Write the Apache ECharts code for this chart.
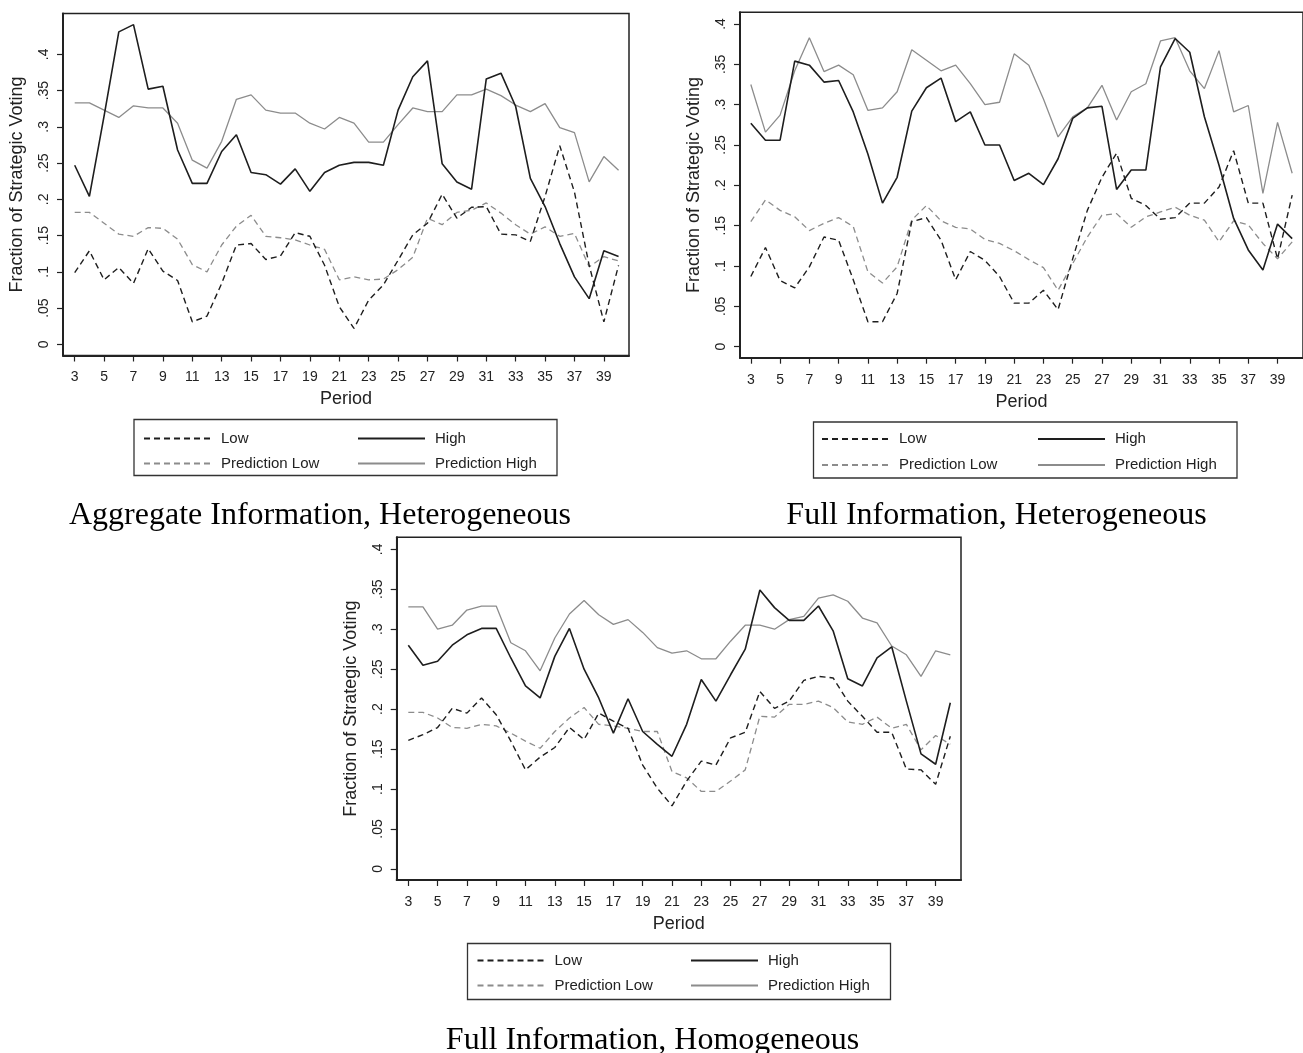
<!DOCTYPE html>
<html>
<head>
<meta charset="utf-8">
<title>Fraction of Strategic Voting by Period</title>
<script src="https://cdn.jsdelivr.net/npm/echarts@6/dist/echarts.min.js"></script>
<style>
  html, body { margin: 0; padding: 0; background: #ffffff; }
  #chart { width: 1303px; height: 1053px; }
</style>
</head>
<body>
<div id="chart"></div>
<script>
// Periods shown on the horizontal axis
const periods = [3,4,5,6,7,8,9,10,11,12,13,14,15,16,17,18,19,20,21,22,23,24,25,26,27,28,29,30,31,32,33,34,35,36,37,38,39,40];

// Tick positions and labels
const xTickValues = [3,5,7,9,11,13,15,17,19,21,23,25,27,29,31,33,35,37,39];
const yTickValues = [0,0.05,0.1,0.15,0.2,0.25,0.3,0.35,0.4];
const yTickLabels = ['0','.05','.1','.15','.2','.25','.3','.35','.4'];

// Aggregate Information, Heterogeneous
const aggLow      = [0.099,0.129,0.089,0.106,0.084,0.132,0.101,0.088,0.031,0.039,0.084,0.137,0.139,0.117,0.122,0.154,0.149,0.109,0.052,
                     0.022,0.061,0.082,0.116,0.151,0.167,0.207,0.174,0.189,0.190,0.152,0.151,0.142,0.204,0.274,0.210,0.109,0.031,0.109];
const aggHigh     = [0.247,0.204,0.315,0.431,0.441,0.352,0.356,0.268,0.222,0.222,0.266,0.289,0.237,0.234,0.221,0.242,0.211,0.237,0.247,
                     0.251,0.251,0.247,0.323,0.369,0.391,0.249,0.224,0.214,0.366,0.374,0.328,0.229,0.190,0.139,0.093,0.063,0.129,0.121];
const aggPredLow  = [0.182,0.182,0.167,0.152,0.149,0.161,0.160,0.145,0.110,0.100,0.137,0.163,0.178,0.149,0.147,0.144,0.137,0.131,0.089,
                     0.093,0.089,0.090,0.103,0.120,0.174,0.165,0.182,0.185,0.195,0.181,0.165,0.152,0.162,0.149,0.153,0.107,0.121,0.115];
const aggPredHigh = [0.333,0.333,0.323,0.313,0.329,0.326,0.326,0.305,0.254,0.243,0.280,0.338,0.344,0.323,0.319,0.319,0.305,0.297,0.313,
                     0.305,0.279,0.279,0.303,0.326,0.321,0.321,0.344,0.344,0.352,0.343,0.330,0.321,0.332,0.299,0.292,0.224,0.259,0.240];

// Full Information, Heterogeneous
const hetLow      = [0.087,0.123,0.082,0.073,0.099,0.136,0.132,0.083,0.031,0.031,0.066,0.155,0.160,0.132,0.083,0.118,0.107,0.087,0.054,
                     0.054,0.070,0.046,0.109,0.169,0.210,0.240,0.184,0.175,0.158,0.160,0.178,0.178,0.198,0.243,0.178,0.178,0.109,0.188];
const hetHigh     = [0.277,0.256,0.256,0.354,0.349,0.328,0.330,0.291,0.239,0.178,0.210,0.292,0.321,0.333,0.279,0.291,0.250,0.250,0.206,
                     0.215,0.201,0.233,0.283,0.296,0.298,0.195,0.219,0.219,0.347,0.382,0.365,0.285,0.225,0.159,0.120,0.095,0.152,0.134];
const hetPredLow  = [0.155,0.182,0.169,0.161,0.144,0.153,0.160,0.149,0.093,0.079,0.099,0.157,0.175,0.156,0.148,0.146,0.133,0.128,0.119,
                     0.108,0.098,0.070,0.103,0.136,0.163,0.165,0.148,0.161,0.167,0.173,0.163,0.157,0.130,0.156,0.151,0.128,0.109,0.130];
const hetPredHigh = [0.325,0.266,0.287,0.342,0.383,0.341,0.349,0.337,0.293,0.296,0.316,0.368,0.355,0.342,0.349,0.326,0.300,0.303,0.363,
                     0.349,0.307,0.260,0.285,0.296,0.324,0.281,0.316,0.326,0.379,0.383,0.342,0.320,0.367,0.291,0.299,0.190,0.278,0.215];

// Full Information, Homogeneous
const homLow      = [0.161,0.168,0.177,0.201,0.195,0.214,0.193,0.160,0.124,0.140,0.152,0.177,0.162,0.195,0.185,0.176,0.130,0.101,0.079,
                     0.110,0.135,0.130,0.164,0.171,0.222,0.201,0.210,0.236,0.241,0.239,0.210,0.191,0.171,0.171,0.125,0.124,0.106,0.166];
const homHigh     = [0.280,0.255,0.260,0.280,0.293,0.301,0.301,0.264,0.229,0.214,0.266,0.301,0.250,0.214,0.170,0.213,0.172,0.156,0.141,
                     0.181,0.237,0.210,0.243,0.275,0.349,0.327,0.311,0.311,0.329,0.298,0.238,0.229,0.264,0.278,0.210,0.144,0.131,0.208];
const homPredLow  = [0.196,0.196,0.189,0.177,0.176,0.181,0.179,0.170,0.160,0.151,0.172,0.189,0.202,0.181,0.179,0.176,0.172,0.172,0.122,
                     0.114,0.097,0.097,0.110,0.124,0.191,0.190,0.206,0.206,0.210,0.202,0.184,0.181,0.190,0.176,0.181,0.149,0.167,0.156];
const homPredHigh = [0.328,0.328,0.300,0.305,0.324,0.329,0.329,0.283,0.273,0.248,0.289,0.319,0.336,0.318,0.306,0.312,0.296,0.277,0.270,
                     0.273,0.263,0.263,0.285,0.305,0.305,0.300,0.312,0.316,0.339,0.343,0.335,0.314,0.308,0.279,0.268,0.241,0.273,0.268];

const panelTitles = ['Aggregate Information, Heterogeneous', 'Full Information, Heterogeneous', 'Full Information, Homogeneous'];
const seriesNames = ['Low', 'High', 'Prediction Low', 'Prediction High'];

const SANS = '"Liberation Sans", Arial, sans-serif';
const SERIF = '"Liberation Serif", "Times New Roman", serif';
const INK = '#1e1e1e';
const GREY = '#8c8c8c';
const DASH = [6, 4];

// Line appearance for each of the four series
const styles = {
  'Low':             { color: INK,  width: 1.4, type: DASH },
  'High':            { color: INK,  width: 1.6, type: 'solid' },
  'Prediction Low':  { color: GREY, width: 1.3, type: DASH },
  'Prediction High': { color: GREY, width: 1.3, type: 'solid' }
};

// Plot frames: position in px and axis ranges
const panels = [
  { left: 63,    top: 13.5,  width: 566,   height: 342,   xMin: 2.204, xMax: 40.71, yMin: -0.0154, yMax: 0.4563,
    values: [aggLow, aggHigh, aggPredLow, aggPredHigh],
    legend: { box: [134, 419.5, 423, 56], col1: 143, col2: 357, top: 431, gap: 10 },
    title: { x: 320, y: 516 } },
  { left: 740,   top: 12.3,  width: 571.4, height: 345.4, xMin: 2.26,  xMax: 40.74, yMin: -0.0136, yMax: 0.4145,
    values: [hetLow, hetHigh, hetPredLow, hetPredHigh],
    legend: { box: [813.5, 422, 423.5, 56], col1: 821, col2: 1037, top: 431.5, gap: 11 },
    title: { x: 996.5, y: 516 } },
  { left: 396.7, top: 537.3, width: 564.3, height: 342.7, xMin: 2.208, xMax: 40.73, yMin: -0.0138, yMax: 0.415,
    values: [homLow, homHigh, homPredLow, homPredHigh],
    legend: { box: [467.5, 943.5, 423, 56], col1: 476.5, col2: 690, top: 953, gap: 10 },
    title: { x: 652.5, y: 1041 } }
];

const grid = [], xAxis = [], yAxis = [], series = [], legend = [], title = [], graphic = [];

panels.forEach((p, i) => {
  grid.push({ left: p.left, top: p.top, width: p.width, height: p.height,
              show: true, borderColor: '#222', borderWidth: 1.5, containLabel: false });

  xAxis.push({
    gridIndex: i, type: 'value', min: p.xMin, max: p.xMax,
    name: 'Period', nameLocation: 'middle', nameGap: 35,
    nameTextStyle: { fontFamily: SANS, fontSize: 18, color: '#222' },
    axisLine: { show: true, onZero: false, lineStyle: { color: '#222', width: 2 } },
    axisTick: { show: true, inside: false, length: 6, customValues: xTickValues, lineStyle: { color: '#222', width: 1.2 } },
    axisLabel: { customValues: xTickValues, margin: 15, fontFamily: SANS, fontSize: 14, color: '#222' },
    splitLine: { show: false }
  });

  yAxis.push({
    gridIndex: i, type: 'value', min: p.yMin, max: p.yMax,
    name: 'Fraction of Strategic Voting', nameLocation: 'middle', nameGap: 37,
    nameTextStyle: { fontFamily: SANS, fontSize: 18, color: '#222' },
    axisLine: { show: true, onZero: false, lineStyle: { color: '#222', width: 2 } },
    axisTick: { show: true, inside: false, length: 6, customValues: yTickValues, lineStyle: { color: '#222', width: 1.2 } },
    axisLabel: {
      customValues: yTickValues, rotate: 90, margin: 12, fontFamily: SANS, fontSize: 14, color: '#222',
      formatter: v => {
        const k = yTickValues.findIndex(t => Math.abs(t - v) < 1e-9);
        return k >= 0 ? yTickLabels[k] : '';
      }
    },
    splitLine: { show: false }
  });

  seriesNames.forEach((name, s) => {
    const st = styles[name];
    series.push({
      name, type: 'line', xAxisIndex: i, yAxisIndex: i,
      data: periods.map((t, k) => [t, p.values[s][k]]),
      symbol: 'none', smooth: false, silent: true, animation: false,
      lineStyle: { color: st.color, width: st.width, type: st.type },
      itemStyle: { color: st.color },
      z: name.startsWith('Prediction') ? 2 : 3
    });
  });

  // Two-column key under each plot
  const L = p.legend;
  [[L.col1, ['Low', 'Prediction Low']], [L.col2, ['High', 'Prediction High']]].forEach(([x, names]) => {
    legend.push({
      orient: 'vertical', left: x, top: L.top, padding: 0,
      itemWidth: 67, itemHeight: 14, itemGap: L.gap,
      selectedMode: false, data: names,
      itemStyle: { opacity: 0 },
      textStyle: { fontFamily: SANS, fontSize: 15, color: '#222', lineHeight: 14, padding: [0, 0, 0, 5] }
    });
  });
  graphic.push({
    type: 'rect', silent: true,
    shape: { x: L.box[0], y: L.box[1], width: L.box[2], height: L.box[3] },
    style: { fill: 'none', stroke: '#333', lineWidth: 1.3 }
  });

  title.push({
    text: panelTitles[i], left: p.title.x, top: p.title.y - 16, padding: 0,
    textAlign: 'center',
    textStyle: { fontFamily: SERIF, fontSize: 32, fontWeight: 'normal', color: '#000', lineHeight: 32 }
  });
});

const chart = echarts.init(document.getElementById('chart'), null, { renderer: 'canvas' });
chart.setOption({
  backgroundColor: '#ffffff',
  animation: false,
  title, grid, xAxis, yAxis, series, legend, graphic
});
</script>
</body>
</html>
